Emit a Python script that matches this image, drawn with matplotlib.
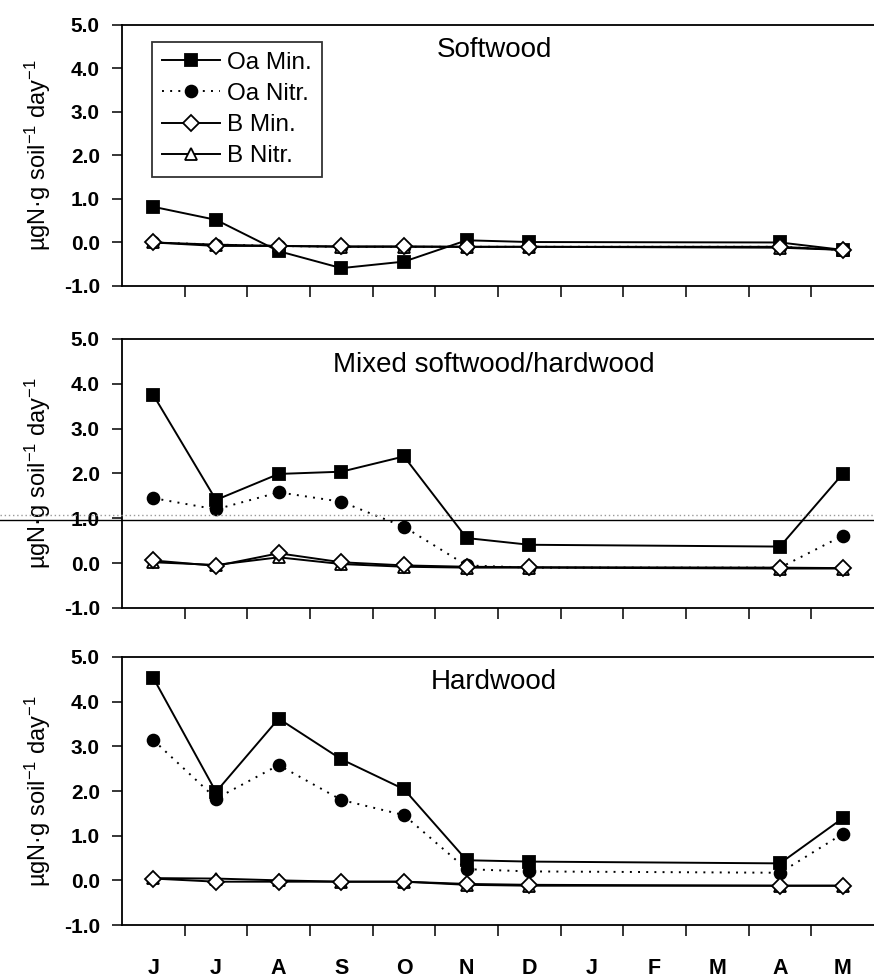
import matplotlib
matplotlib.use('Agg')
import matplotlib.pyplot as plt
from matplotlib.lines import Line2D
import numpy as np

plt.rcParams['font.family'] = ['Liberation Sans', 'DejaVu Sans']
plt.rcParams['mathtext.fontset'] = 'custom'
plt.rcParams['mathtext.rm'] = 'Liberation Sans'
plt.rcParams['mathtext.it'] = 'Liberation Sans'

# month axis (June .. May), sampled months only
months = ['J', 'J', 'A', 'S', 'O', 'N', 'D', 'J', 'F', 'M', 'A', 'M']
sample_idx = [0, 1, 2, 3, 4, 5, 6, 10, 11]

series_names = ['Oa Min.', 'Oa Nitr.', 'B Min.', 'B Nitr.']
panel_titles = ['Softwood', 'Mixed softwood/hardwood', 'Hardwood']

# Softwood
soft_oa_min = [0.82, 0.52, -0.20, -0.59, -0.44, 0.05, 0.01, 0.0, -0.17]
soft_oa_nitr = [0.0, -0.05, -0.08, -0.10, -0.10, -0.10, -0.10, -0.10, -0.17]
soft_b_min = [0.0, -0.08, -0.08, -0.09, -0.09, -0.10, -0.10, -0.10, -0.17]
soft_b_nitr = [0.0, -0.05, -0.08, -0.10, -0.10, -0.10, -0.10, -0.12, -0.17]

# Mixed softwood/hardwood
mixed_oa_min = [3.75, 1.41, 1.99, 2.04, 2.38, 0.56, 0.41, 0.37, 1.99]
mixed_oa_nitr = [1.45, 1.20, 1.58, 1.37, 0.81, -0.05, -0.10, -0.10, 0.61]
mixed_b_min = [0.06, -0.06, 0.22, 0.02, -0.05, -0.08, -0.09, -0.10, -0.11]
mixed_b_nitr = [0.02, -0.04, 0.13, -0.02, -0.08, -0.10, -0.10, -0.12, -0.12]

# Hardwood
hard_oa_min = [4.53, 1.98, 3.62, 2.71, 2.04, 0.45, 0.42, 0.38, 1.39]
hard_oa_nitr = [3.14, 1.83, 2.58, 1.80, 1.46, 0.25, 0.20, 0.17, 1.04]
hard_b_min = [0.04, -0.03, -0.03, -0.03, -0.03, -0.08, -0.10, -0.12, -0.12]
hard_b_nitr = [0.05, 0.04, 0.0, -0.03, -0.03, -0.10, -0.12, -0.12, -0.12]

panels = [
    [soft_oa_min, soft_oa_nitr, soft_b_min, soft_b_nitr],
    [mixed_oa_min, mixed_oa_nitr, mixed_b_min, mixed_b_nitr],
    [hard_oa_min, hard_oa_nitr, hard_b_min, hard_b_nitr],
]

yticks = [-1, 0, 1, 2, 3, 4, 5]
ytick_labels = ['-1.0', '0.0', '1.0', '2.0', '3.0', '4.0', '5.0']

# styles per series: (linestyle, marker, facecolor, markersize, zorder)
styles = [
    ('-', 's', 'black', 9, 3),
    ((0, (1.0, 3.2)), 'o', 'black', 8.5, 3),
    ('-', 'D', 'white', 8, 5),
    ('-', '^', 'white', 8.5, 4),
]

fig = plt.figure(figsize=(8.74, 9.80), dpi=100)

# [left, bottom, width, height] of each panel
positions = [
    [0.1396, 0.7082, 0.8604, 0.2663],
    [0.1396, 0.3796, 0.8604, 0.2745],
    [0.1396, 0.0561, 0.8604, 0.2735],
]

for p, (pos, data, title) in enumerate(zip(positions, panels, panel_titles)):
    ax = fig.add_axes(pos)
    for name, vals, (ls, mk, fc, ms, z) in zip(series_names, data, styles):
        ax.plot(sample_idx, vals, linestyle=ls, color='black', linewidth=1.4,
                marker=mk, markersize=ms, markerfacecolor=fc,
                markeredgecolor='black', markeredgewidth=1.3, label=name,
                zorder=z, clip_on=False)

    ax.set_xlim(-0.5, 11.5)
    ax.set_ylim(-1, 5)
    ax.set_yticks(yticks)
    ax.set_yticklabels(ytick_labels, fontsize=15, fontweight='bold')

    # ticks at month boundaries, labels at month centres
    ax.set_xticks(np.arange(0.5, 11.5, 1.0))
    ax.set_xticklabels([])
    ax.set_xticks(np.arange(12), minor=True)
    if p == 2:
        ax.set_xticklabels(months, minor=True, fontsize=15.5, fontweight='bold')
    else:
        ax.set_xticklabels([], minor=True)
    ax.tick_params(axis='x', which='major', direction='out', length=8, width=1.1)
    ax.tick_params(axis='x', which='minor', length=0, pad=24)
    ax.tick_params(axis='y', direction='out', length=7, width=1.1, pad=9)

    for side in ['left', 'bottom', 'top']:
        ax.spines[side].set_linewidth(1.3)
    ax.spines['right'].set_visible(False)

    ax.set_ylabel(r'µgN·g soil$^{-1}$ day$^{-1}$', fontsize=17)
    ax.yaxis.set_label_coords(-0.092, 0.5)

    ax.text(0.495, 0.905, title, transform=ax.transAxes, fontsize=20,
            ha='center', va='center')

    if p == 0:
        leg = ax.legend(loc='upper left', bbox_to_anchor=(0.04, 0.935),
                        fontsize=17.5, frameon=True, fancybox=False,
                        edgecolor='black', handlelength=2.4, labelspacing=0.38,
                        borderpad=0.4, handletextpad=0.3, borderaxespad=0)
        leg.get_frame().set_linewidth(1.3)

# scanner streak across the middle of the page
fig.add_artist(Line2D([0, 1], [1 - 515 / 980, 1 - 515 / 980], transform=fig.transFigure,
                      color='#999999', linewidth=1.0, linestyle=(0, (1, 2))))
fig.add_artist(Line2D([0, 1], [1 - 520 / 980, 1 - 520 / 980], transform=fig.transFigure,
                      color='black', linewidth=1.0))

plt.savefig('out.png', dpi=100)
